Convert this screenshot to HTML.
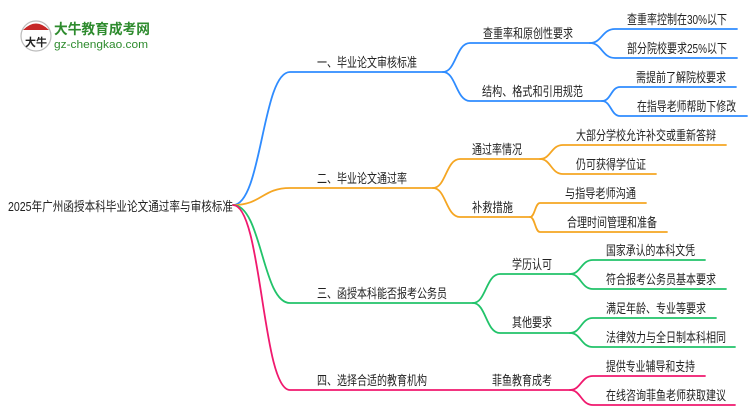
<!DOCTYPE html>
<html><head><meta charset="utf-8"><style>
html,body{margin:0;padding:0;background:#fff;width:750px;height:410px;overflow:hidden}
svg text{font-family:"Liberation Sans","Noto Sans CJK SC",sans-serif;font-size:13px;fill:#222}
</style></head><body>
<svg width="750" height="410" viewBox="0 0 750 410" xmlns="http://www.w3.org/2000/svg">
<g fill="none" stroke-width="1.8" stroke-linecap="round">
<g stroke="#2f8cff">
<path d="M233,205 C262,205 262,72 290,72 L443,72"/>
<path d="M443,72 C456,72 456,43 470,43 L590,43"/>
<path d="M443,72 C456,72 456,101 470,101 L602,101"/>
<path d="M590,43 C602,43 602,29 615,29 L737,29"/>
<path d="M590,43 C602,43 602,58 615,58 L737,58"/>
<path d="M602,101 C611,101 611,87 620,87 L736,87"/>
<path d="M602,101 C611,101 611,116 620,116 L747,116"/>
</g>
<g stroke="#f5a623">
<path d="M233,205 C262,205 262,188 290,188 L433,188"/>
<path d="M433,188 C446,188 446,159 460,159 L540,159"/>
<path d="M433,188 C446,188 446,217 460,217 L530,217"/>
<path d="M540,159 C551,159 551,145 563,145 L726,145"/>
<path d="M540,159 C551,159 551,174 563,174 L656,174"/>
<path d="M530,217 C535,217 535,203 540,203 L646,203"/>
<path d="M530,217 C535,217 535,232 540,232 L667,232"/>
</g>
<g stroke="#22c36a">
<path d="M233,205 C262,205 262,303 290,303 L473,303"/>
<path d="M473,303 C486,303 486,274 500,274 L570,274"/>
<path d="M473,303 C486,303 486,333 500,333 L570,333"/>
<path d="M570,274 C581,274 581,260 593,260 L705,260"/>
<path d="M570,274 C581,274 581,289 593,289 L726,289"/>
<path d="M570,333 C581,333 581,318 593,318 L716,318"/>
<path d="M570,333 C581,333 581,347 593,347 L735,347"/>
</g>
<g stroke="#f0196e">
<path d="M233,205 C262,205 262,390 290,390 L570,390"/>
<path d="M570,390 C581,390 581,376 593,376 L705,376"/>
<path d="M570,390 C581,390 581,405 593,405 L735,405"/>
</g>
</g>
<circle cx="36" cy="36" r="15" fill="#fff" stroke="#bbb" stroke-width="1.2"/>
<path d="M23,30 Q36,17 49,30 Z" fill="#c62828"/>
<text x="25" y="46" style="font-size:11px;font-weight:bold;fill:#222">大牛</text>
<text x="54" y="34" textLength="96" lengthAdjust="spacingAndGlyphs" style="font-size:14px;font-weight:bold;fill:#2e8b2e">大牛教育成考网</text>
<text x="54" y="48" textLength="94" lengthAdjust="spacingAndGlyphs" style="font-size:11px;fill:#2e8b2e">gz-chengkao.com</text>
<text x="8" y="211" textLength="225" lengthAdjust="spacingAndGlyphs" style="font-size:13px">2025年广州函授本科毕业论文通过率与审核标准</text>
<g>
<text x="317" y="67" textLength="100" lengthAdjust="spacingAndGlyphs">一、毕业论文审核标准</text>
<text x="483" y="38" textLength="90" lengthAdjust="spacingAndGlyphs">查重率和原创性要求</text>
<text x="482" y="96" textLength="101" lengthAdjust="spacingAndGlyphs">结构、格式和引用规范</text>
<text x="627" y="24" textLength="100" lengthAdjust="spacingAndGlyphs">查重率控制在30%以下</text>
<text x="627" y="53" textLength="100" lengthAdjust="spacingAndGlyphs">部分院校要求25%以下</text>
<text x="636" y="82" textLength="90" lengthAdjust="spacingAndGlyphs">需提前了解院校要求</text>
<text x="637" y="111" textLength="99" lengthAdjust="spacingAndGlyphs">在指导老师帮助下修改</text>
<text x="317" y="183" textLength="90" lengthAdjust="spacingAndGlyphs">二、毕业论文通过率</text>
<text x="472" y="154" textLength="50" lengthAdjust="spacingAndGlyphs">通过率情况</text>
<text x="472" y="212" textLength="41" lengthAdjust="spacingAndGlyphs">补救措施</text>
<text x="576" y="140" textLength="140" lengthAdjust="spacingAndGlyphs">大部分学校允许补交或重新答辩</text>
<text x="576" y="169" textLength="70" lengthAdjust="spacingAndGlyphs">仍可获得学位证</text>
<text x="565" y="198" textLength="71" lengthAdjust="spacingAndGlyphs">与指导老师沟通</text>
<text x="567" y="227" textLength="90" lengthAdjust="spacingAndGlyphs">合理时间管理和准备</text>
<text x="317" y="298" textLength="130" lengthAdjust="spacingAndGlyphs">三、函授本科能否报考公务员</text>
<text x="512" y="269" textLength="40" lengthAdjust="spacingAndGlyphs">学历认可</text>
<text x="512" y="327" textLength="40" lengthAdjust="spacingAndGlyphs">其他要求</text>
<text x="606" y="255" textLength="89" lengthAdjust="spacingAndGlyphs">国家承认的本科文凭</text>
<text x="606" y="284" textLength="110" lengthAdjust="spacingAndGlyphs">符合报考公务员基本要求</text>
<text x="606" y="313" textLength="100" lengthAdjust="spacingAndGlyphs">满足年龄、专业等要求</text>
<text x="606" y="342" textLength="120" lengthAdjust="spacingAndGlyphs">法律效力与全日制本科相同</text>
<text x="317" y="385" textLength="110" lengthAdjust="spacingAndGlyphs">四、选择合适的教育机构</text>
<text x="492" y="385" textLength="60" lengthAdjust="spacingAndGlyphs">菲鱼教育成考</text>
<text x="606" y="371" textLength="89" lengthAdjust="spacingAndGlyphs">提供专业辅导和支持</text>
<text x="606" y="400" textLength="120" lengthAdjust="spacingAndGlyphs">在线咨询菲鱼老师获取建议</text>
</g>
</svg>
</body></html>
